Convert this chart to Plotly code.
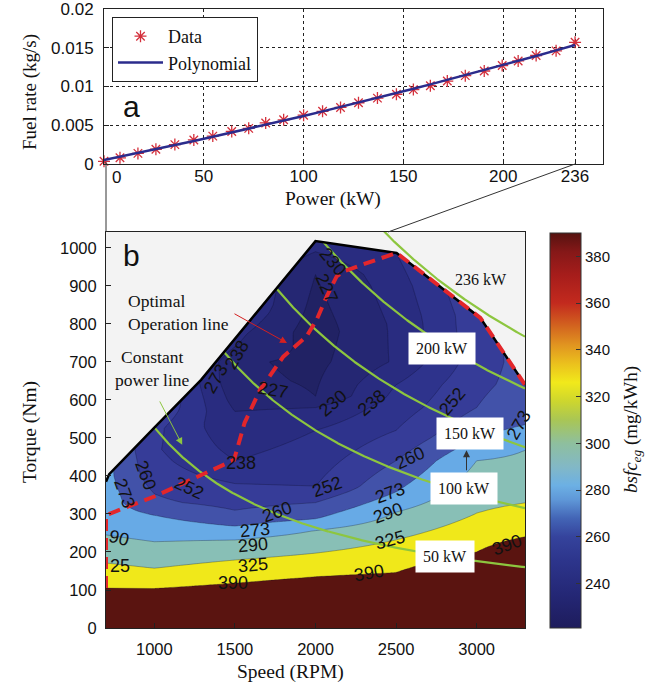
import numpy as np
import plotly.graph_objects as go

W, H = 667, 686

# ---------------- Panel a : fuel rate vs power ----------------
power_kw = [0, 8, 17, 26, 35.5, 45, 54.5, 64, 72.5, 81, 90, 100, 109.5, 118.5, 127.5,
            137, 146.5, 155, 163.5, 172, 181, 190.5, 199.5, 207.5, 216.5, 226.5, 236]
fuel_rate = [0.00035, 0.0008, 0.00137, 0.0019, 0.0025, 0.0031, 0.0036, 0.0042, 0.0046,
             0.0053, 0.0057, 0.0063, 0.0068, 0.0073, 0.0079, 0.0085, 0.0090, 0.0096,
             0.0101, 0.0107, 0.0114, 0.0120, 0.0127, 0.0133, 0.0140, 0.0146, 0.0157]
a_xticks = [0, 50, 100, 150, 200, 236]
a_yticks = [0, 0.005, 0.01, 0.015, 0.02]
a_yticktext = ["0", "0.005", "0.01", "0.015", "0.02"]

# ---------------- Panel b : bsfc map ----------------
contour_levels = [227, 230, 238, 252, 260, 273, 290, 325, 390]
speed_cols = [700, 1000, 1500, 2000, 2500, 3000, 3300]
# contour crossings read along each speed column: torque (Nm) -> bsfc
col700_nm = [0, 105, 171, 245, 300, 400, 1050]
col700_bsfc = [505, 390, 325, 290, 282, 278, 278]
col1000_nm = [0, 104, 157, 227, 297, 330, 400, 470, 527, 600, 1050]
col1000_bsfc = [505, 390, 325, 290, 273, 262, 256, 253, 254, 262, 262]
col1500_nm = [0, 118, 179, 232, 268, 310, 380, 440, 540, 600, 650, 700, 773, 850, 1050]
col1500_bsfc = [520, 390, 325, 290, 273, 260, 252, 238, 231, 229, 227.8, 227.6, 232, 240, 245]
col2000_nm = [0, 135, 197, 257, 287, 330, 372, 520, 580, 610, 780, 930, 990, 1018, 1050]
col2000_bsfc = [535, 390, 325, 290, 273, 260, 252, 238, 230, 227, 224, 227, 230, 231, 232]
col2500_nm = [0, 146, 232, 305, 358, 440, 520, 640, 700, 800, 900, 987, 1050]
col2500_bsfc = [545, 390, 325, 290, 273, 260, 252, 238, 231, 231.5, 234, 238, 240]
col3000_nm = [0, 200, 302, 440, 500, 580, 700, 800, 823, 1050]
col3000_bsfc = [600, 390, 325, 290, 273, 260, 256, 257, 257, 265]
col3300_nm = [0, 240, 329, 468, 535, 640, 1050]
col3300_bsfc = [650, 390, 325, 290, 273, 265, 265]

max_torque_rpm = [700, 720, 1000, 1290, 2000, 2503, 3023, 3300]
max_torque_nm = [385, 405, 527, 653, 1018, 987, 816, 640]

opt_rpm = [700, 700, 1000, 1494, 1560, 1655, 1800, 1944, 2007, 2069, 2131, 2172, 2317, 2503, 3023, 3300]
opt_nm = [105, 297, 346, 442, 540, 626, 714, 767, 811, 872, 925, 938, 960, 987, 816, 640]

power_line_kw = [50, 100, 150, 200, 236]
power_line_k = [5.28e5, 1.04e6, 1.57e6, 2.08e6, 2.53e6]   # torque*speed

b_xticks = [1000, 1500, 2000, 2500, 3000]
b_yticks = list(range(0, 1001, 100))
cb_ticks = [240, 260, 280, 300, 320, 340, 360, 380]

band_colors = ["#212264", "#252773", "#292c80", "#2e338c", "#363c98", "#4252a9",
               "#67aae6", "#88bfb6", "#f0e81a", "#5a1410"]
cb_vals = [221, 235, 250, 260, 268, 276, 282, 290, 300, 310, 318, 326, 334, 342, 350, 360, 372, 382, 390]
cb_colors = ["#1e1c5c", "#242775", "#2d358c", "#35439c", "#4365b6", "#5f98d8", "#6cb0e4",
             "#82b8c6", "#8ebf9e", "#a9c655", "#cdd62e", "#f1e91b", "#ebc11d", "#e19520",
             "#d3651f", "#c32a1e", "#a61d1b", "#851818", "#561210"]

contour_labels = [
    ("230", 2110, 964, 50), ("227", 2069, 895, 65), ("238", 1511, 718, -60),
    ("273", 1380, 655, -60), ("227", 1738, 626, 10), ("230", 2110, 591, -40),
    ("238", 2348, 591, -40), ("252", 2844, 596, -50), ("273", 3262, 534, -60),
    ("260", 2586, 447, -25), ("252", 2069, 372, -20), ("273", 2462, 355, -20),
    ("290", 2451, 302, -20), ("325", 2462, 232, -15), ("390", 3186, 218, -20),
    ("390", 2330, 145, -10), ("390", 1490, 118, 0), ("325", 1614, 166, -5),
    ("290", 1614, 218, -5), ("273", 1624, 258, -5), ("260", 1759, 306, -20),
    ("252", 1215, 368, 25), ("238", 1535, 433, 0), ("260", 946, 403, 70),
    ("273", 812, 354, 70), ("90", 780, 236, 15), ("25", 785, 164, 0),
]
power_boxes = [("50 kW", 2806, 188), ("100 kW", 2924, 368), ("150 kW", 2960, 511), ("200 kW", 2782, 735)]


def px(x, y):
    return x / W, 1 - y / H


SERIF = "Liberation Serif, Times New Roman, serif"
SANS = "Liberation Sans, Arial, sans-serif"

fig = go.Figure()

# ---- panel a traces
fit = np.polyfit(power_kw, fuel_rate, 2)
fig.add_trace(go.Scatter(x=power_kw, y=fuel_rate, mode="markers", name="Data",
                         marker=dict(symbol="asterisk-open", size=10, color="#d4303c",
                                     line=dict(color="#d4303c", width=1.3)),
                         xaxis="x", yaxis="y", cliponaxis=False))
fig.add_trace(go.Scatter(x=power_kw, y=np.polyval(fit, power_kw), mode="lines", name="Polynomial",
                         line=dict(color="#2b2c8c", width=2.5), xaxis="x", yaxis="y"))

# ---- panel b contour (irregular levels mapped onto a uniform level index)
ext_levels = [221] + contour_levels + [780]
ext_idx = list(range(-1, len(contour_levels))) + [14]
torque_grid = np.arange(0, 1051, 5)
cols = [(col700_nm, col700_bsfc), (col1000_nm, col1000_bsfc), (col1500_nm, col1500_bsfc),
        (col2000_nm, col2000_bsfc), (col2500_nm, col2500_bsfc), (col3000_nm, col3000_bsfc),
        (col3300_nm, col3300_bsfc)]
zcols = []
for nm, bs in cols:
    b = np.interp(torque_grid, nm, bs)
    zcols.append(np.interp(b, ext_levels, ext_idx))
z = np.array(zcols).T

band_scale = [[k / 9, c] for k, c in enumerate(band_colors)]
fig.add_trace(go.Contour(x=speed_cols, y=torque_grid, z=z, xaxis="x2", yaxis="y2",
                         autocontour=False,
                         contours=dict(start=0, end=8, size=1, coloring="fill", showlabels=False),
                         colorscale=band_scale, showscale=False,
                         line=dict(color="rgba(15,15,40,0.5)", width=0.6, smoothing=0),
                         hoverinfo="skip", showlegend=False))

# area outside the engine map
fig.add_trace(go.Scatter(x=max_torque_rpm + [3300, 700], y=max_torque_nm + [1100, 1100],
                         fill="toself", fillcolor="#f3f3f3", mode="none",
                         xaxis="x2", yaxis="y2", showlegend=False, hoverinfo="skip"))

# constant power lines
n = np.linspace(700, 3300, 600)
bnd = np.interp(n, max_torque_rpm, max_torque_nm)
for i, k in enumerate(power_line_k):
    T = k / n
    if power_line_kw[i] != 236:
        T = np.where(T <= bnd + 1, T, np.nan)
    fig.add_trace(go.Scatter(x=n, y=T, mode="lines", line=dict(color="#8dc63f", width=2.2),
                             xaxis="x2", yaxis="y2", showlegend=False, hoverinfo="skip"))

fig.add_trace(go.Scatter(x=max_torque_rpm, y=max_torque_nm, mode="lines",
                         line=dict(color="black", width=2.5), xaxis="x2", yaxis="y2",
                         showlegend=False, hoverinfo="skip"))
fig.add_trace(go.Scatter(x=opt_rpm, y=opt_nm, mode="lines",
                         line=dict(color="#e3262b", width=4, dash="12px,7px"),
                         xaxis="x2", yaxis="y2", showlegend=False, hoverinfo="skip"))

# colorbar carrier
cb_scale = [[(v - 221) / (390 - 221), c] for v, c in zip(cb_vals, cb_colors)]
cbar = dict(x=550 / W, xanchor="left", y=1 - 628 / H, yanchor="bottom",
            len=(628 - 233) / H, lenmode="fraction",
            thickness=31, thicknessmode="pixels",
            xpad=0, ypad=0, outlinecolor="#333", outlinewidth=1,
            tickvals=cb_ticks, ticks="inside", ticklen=5, tickcolor="#333",
            tickfont=dict(family=SANS, size=15, color="#111"))
cmarker = dict(size=1, color=[300], cmin=221, cmax=390, colorscale=cb_scale,
               showscale=True, colorbar=cbar)
fig.add_trace(go.Scatter(x=[2000], y=[-500], mode="markers", xaxis="x2", yaxis="y2",
                         showlegend=False, hoverinfo="skip", marker=cmarker))

ann = []
for t, x, y, a in contour_labels:
    ann.append(dict(text=t, x=x, y=y, xref="x2", yref="y2", showarrow=False, textangle=a,
                    font=dict(family=SANS, size=18, color="#111")))
for t, x, y in power_boxes:
    ann.append(dict(text=t, x=x, y=y, xref="x2", yref="y2", showarrow=False, bgcolor="white",
                    borderpad=7, font=dict(family=SERIF, size=16, color="#111")))
ann.append(dict(text="236 kW", x=3024, y=916, xref="x2", yref="y2", showarrow=False,
                font=dict(family=SERIF, size=16, color="#111")))
# arrows
ann.append(dict(text="", x=1823, y=750, ax=1488, ay=829, xref="x2", yref="y2", axref="x2", ayref="y2",
                showarrow=True, arrowcolor="#d42020", arrowwidth=1, arrowhead=2, arrowsize=1.4, standoff=0))
ann.append(dict(text="", x=1173, y=482, ax=1029, ay=600, xref="x2", yref="y2", axref="x2", ayref="y2",
                showarrow=True, arrowcolor="#8dc63f", arrowwidth=1, arrowhead=2, arrowsize=1.4, standoff=0))
ann.append(dict(text="", x=2937, y=468, ax=2937, ay=411, xref="x2", yref="y2", axref="x2", ayref="y2",
                showarrow=True, arrowcolor="#333", arrowwidth=1, arrowhead=2, arrowsize=1.4, standoff=0))


def pann(text, x, y, size, family=SERIF, angle=0, xanchor="center", align="center"):
    xx, yy = px(x, y)
    ann.append(dict(text=text, x=xx, y=yy, xref="paper", yref="paper", showarrow=False,
                    textangle=angle, xanchor=xanchor, yanchor="middle", align=align,
                    font=dict(family=family, size=size, color="#111")))


pann("Optimal<br>Operation line", 126, 312, 17.5, xanchor="left", align="left")
pann("Constant<br>power line", 152, 368, 17.5)
pann("a", 131, 106, 30, family=SANS)
pann("b", 131, 256, 30, family=SANS)
pann("Fuel rate (kg/s)", 30, 92, 19, angle=-90)
pann("Power (kW)", 333, 199, 19.5)
pann("Torque (Nm)", 30, 432, 19.5, angle=-90)
pann("Speed (RPM)", 290, 672, 19.5)
pann("<i>bsfc</i><sub><i>eg</i></sub> (mg/kWh)", 632, 430, 19, angle=-90)
pann("0", 116, 177, 17, family=SANS)

shapes = [
    dict(type="line", xref="paper", yref="paper", x0=106 / W, y0=1 - 162 / H, x1=106 / W, y1=1 - 232 / H,
         line=dict(color="#333", width=1)),
    dict(type="line", xref="paper", yref="paper", x0=575 / W, y0=1 - 164 / H, x1=388 / W, y1=1 - 232 / H,
         line=dict(color="#333", width=1)),
]

axis_common = dict(showline=True, mirror=True, linecolor="#222", linewidth=1, ticks="inside",
                   ticklen=5, tickcolor="#222", zeroline=False, ticklabeloverflow="allow",
                   automargin=False)

fig.update_layout(
    width=W, height=H, margin=dict(l=0, r=0, t=0, b=0, autoexpand=False),
    paper_bgcolor="white", plot_bgcolor="white",
    showlegend=True,
    legend=dict(x=112 / W, y=1 - 17 / H, xanchor="left", yanchor="top", bgcolor="white",
                bordercolor="#222", borderwidth=1, font=dict(family=SERIF, size=18, color="#111"),
                tracegroupgap=0, itemwidth=45),
    xaxis=dict(domain=[104 / W, 603 / W], range=[0, 250], tickvals=a_xticks,
               ticktext=[""] + [str(v) for v in a_xticks[1:]], showgrid=True, gridcolor="#222",
               griddash="dot", gridwidth=0.8, tickfont=dict(family=SANS, size=17, color="#111"),
               anchor="y", ticklabelstandoff=-3, **axis_common),
    yaxis=dict(domain=[1 - 164 / H, 1 - 9 / H], range=[0, 0.02], tickvals=a_yticks, ticktext=a_yticktext,
               showgrid=True, gridcolor="#222", griddash="dot", gridwidth=0.8,
               tickfont=dict(family=SANS, size=17, color="#111"), anchor="x",
               ticklabelstandoff=6, **axis_common),
    xaxis2=dict(domain=[106 / W, 525 / W], range=[700, 3300], tickvals=b_xticks, showgrid=False,
                tickfont=dict(family=SANS, size=16.5, color="#111"), anchor="y2",
                ticklabelstandoff=6, **axis_common),
    yaxis2=dict(domain=[1 - 628 / H, 1 - 232 / H], range=[0, 1042], tickvals=b_yticks, showgrid=False,
                tickfont=dict(family=SANS, size=16.5, color="#111"), anchor="x2",
                ticklabelstandoff=5, **axis_common),
    annotations=ann, shapes=shapes,
)

fig.write_html("out.html")
